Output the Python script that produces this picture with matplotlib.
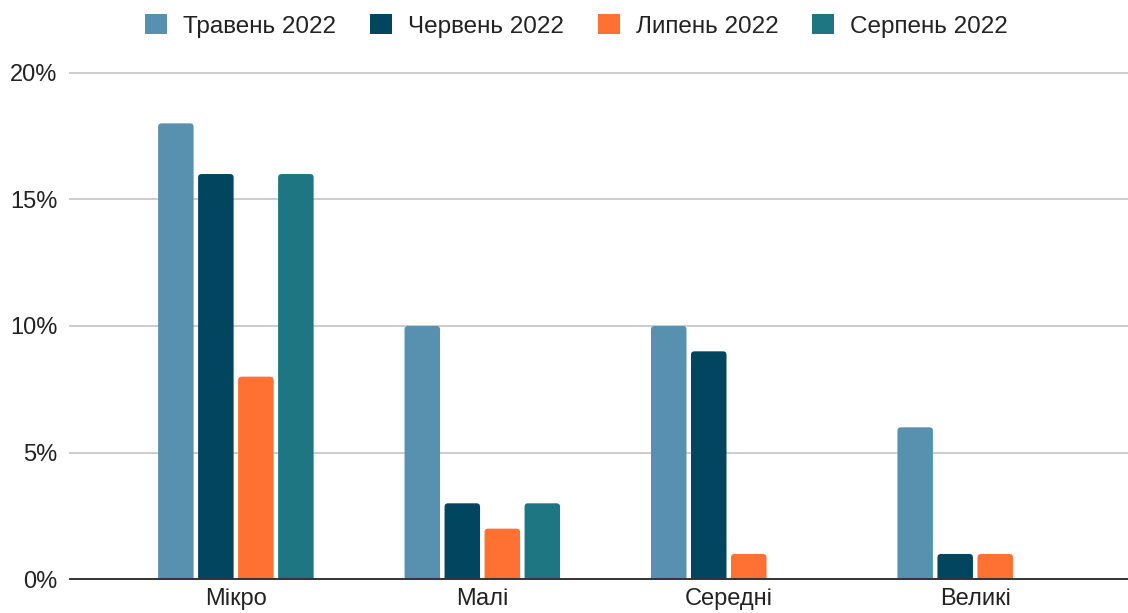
import numpy as np
import matplotlib
matplotlib.use("Agg")
import matplotlib.pyplot as plt
from matplotlib.patches import FancyBboxPatch, Patch

categories = ["Мікро", "Малі", "Середні", "Великі"]
series_names = ["Травень 2022", "Червень 2022", "Липень 2022", "Серпень 2022"]
may = [18, 10, 10, 6]
june = [16, 3, 9, 1]
july = [8, 2, 1, 1]
august = [16, 3, np.nan, np.nan]
yticks = [0, 5, 10, 15, 20]
ytick_labels = ["0%", "5%", "10%", "15%", "20%"]

colors = ["#5891b0", "#02455f", "#ff7033", "#1e7683"]
series = [may, june, july, august]

plt.rcParams['font.family'] = ['Liberation Sans', 'DejaVu Sans']
W, H = 1128, 613
fig = plt.figure(figsize=(W / 100, H / 100), dpi=100)
ax_left, ax_right = 70 / W, 1.0
ax_bottom = (H - 579.3) / H
ax_top = (H - 72.7) / H
ax = fig.add_axes([ax_left, ax_bottom, ax_right - ax_left, ax_top - ax_bottom])

x = np.arange(len(categories))
pitch = 40 / 246.4
width = 35.5 / 246.4
ax.set_xlim(-0.673, 3.620)
ax.set_ylim(0, 20)

# pixel scales for rounded corners
xu_per_px = (3.620 + 0.673) / (W * (ax_right - ax_left))
yu_per_px = 20 / (H * (ax_top - ax_bottom))
r_px = 3.5
for i, (vals, col) in enumerate(zip(series, colors)):
    offs = (i - 1.5) * pitch
    bars = ax.bar(x + offs, vals, width, color=col, alpha=0)
    for b in bars:
        h = b.get_height()
        if not np.isfinite(h) or h <= 0:
            continue
        bx = b.get_x()
        ext = r_px * yu_per_px
        p = FancyBboxPatch((bx, -ext), b.get_width(), h + ext,
                           boxstyle=f"round,pad=0,rounding_size={r_px * xu_per_px}",
                           mutation_aspect=yu_per_px / xu_per_px,
                           facecolor=col, edgecolor="none", zorder=2)
        ax.add_patch(p)

for yv in yticks[1:]:
    ax.axhline(yv, color="#cccccc", lw=1.4, zorder=1, clip_on=False)
ax.axhline(0, color="#333333", lw=1.4, zorder=3, clip_on=False)

for s in ax.spines.values():
    s.set_visible(False)
ax.set_yticks(yticks)
ax.set_yticklabels(ytick_labels)
ax.set_xticks(x)
ax.set_xticklabels(categories)
ax.tick_params(axis="both", length=0, labelsize=17, colors="#222222")
ax.tick_params(axis="y", pad=9)
ax.tick_params(axis="x", pad=6)

handles = [Patch(facecolor=c, edgecolor="none") for c in colors]
fig.legend(handles, series_names, loc="center", bbox_to_anchor=(0.511, (H - 26) / H),
           ncol=4, frameon=False, fontsize=17.5, handlelength=0.9, handleheight=0.9,
           handletextpad=0.66, columnspacing=1.4, labelcolor="#222222")

fig.savefig("out.png", dpi=100)
